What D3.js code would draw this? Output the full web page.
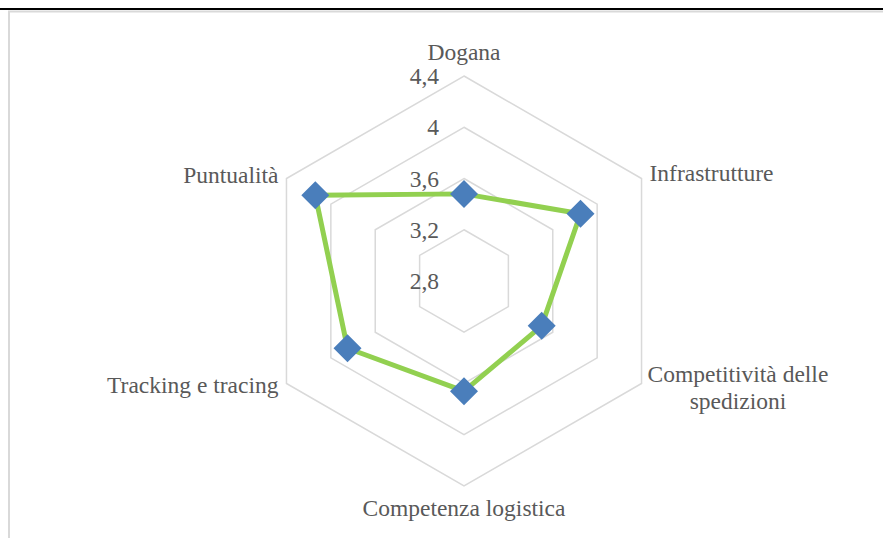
<!DOCTYPE html>
<html>
<head>
<meta charset="utf-8">
<script src="https://cdn.jsdelivr.net/npm/d3@7"></script>
<style>
  body { margin: 0; background: #fff; }
  svg { display: block; }
</style>
</head>
<body>
<svg id="chart" width="883" height="538"></svg>
<script>
// data
const labelLines = [
    ["Dogana"],
    ["Infrastrutture"],
    ["Competitività delle", "spedizioni"],
    ["Competenza logistica"],
    ["Tracking e tracing"],
    ["Puntualità"]
];
const values = [3.48, 3.85, 3.50, 3.66, 3.85, 4.14];
const ticks = [2.8, 3.2, 3.6, 4.0, 4.4];
const tickLabels = ["2,8", "3,2", "3,6", "4", "4,4"];

const width = 883, height = 538;
const cx = 464, cy = 281, R = 205;
const fontSize = 23.5;
const font = "'Liberation Serif', 'Times New Roman', Times, serif";

const svg = d3.select("#chart")
    .attr("font-family", font)
    .style("font-family", font);

// frame lines
svg.append("line")
    .attr("x1", 0).attr("x2", width).attr("y1", 9).attr("y2", 9)
    .style("stroke", "#000").style("stroke-width", 2);
svg.append("rect")
    .attr("x", 9).attr("y", 11.5).attr("width", width + 20).attr("height", height + 20)
    .style("fill", "none").style("stroke", "#d9d9d9").style("stroke-width", 2);

const r = d3.scaleLinear().domain([2.8, 4.4]).range([0, R]);
const n = labelLines.length;
const angle = i => i * 2 * Math.PI / n;

function point(i, v) {
    const a = angle(i);
    return [cx + r(v) * Math.sin(a), cy - r(v) * Math.cos(a)];
}

const g = svg.append("g");

// grid rings
const ring = d3.line();
g.selectAll("path.ring").data(ticks.slice(1)).enter().append("path")
    .attr("class", "ring")
    .attr("d", t => ring(d3.range(n).map(i => point(i, t))) + "Z")
    .style("fill", "none")
    .style("stroke", "#d9d9d9")
    .style("stroke-width", 1.5);

// tick labels
g.selectAll("text.tick").data(ticks).enter().append("text")
    .attr("class", "tick")
    .attr("x", cx - 25)
    .attr("y", t => cy - r(t) + 8)
    .attr("text-anchor", "end")
    .style("font-family", font)
    .style("fill", "#595959")
    .style("font-size", fontSize + "px")
    .text((t, i) => tickLabels[i]);

// series line
const pts = values.map((v, i) => point(i, v));
g.append("path")
    .attr("d", d3.line()(pts) + "Z")
    .style("fill", "none")
    .style("stroke", "#92d050")
    .style("stroke-width", 5)
    .style("stroke-linejoin", "round");

// diamond markers
g.selectAll("path.marker").data(pts).enter().append("path")
    .attr("class", "marker")
    .attr("transform", d => `translate(${d[0]},${d[1]})`)
    .attr("d", "M0,-14L14,0L0,14L-14,0Z")
    .style("fill", "#4a7ebb");

// category labels
const labelPos = [
    { dx: 0, dy: -16, anchor: "middle" },
    { dx: 8, dy: 2, anchor: "start" },
    { dx: 6, dy: -2, anchor: "block" },
    { dx: 0, dy: 30, anchor: "middle" },
    { dx: -8, dy: 9, anchor: "end" },
    { dx: -8, dy: 4, anchor: "end" }
];

labelLines.forEach((lines, i) => {
    const [vx, vy] = point(i, 4.4);
    const p = labelPos[i];
    const t = g.append("text")
        .style("font-family", font)
        .style("fill", "#595959")
        .style("font-size", fontSize + "px")
        .attr("y", vy + p.dy);
    lines.forEach((line, k) => {
        t.append("tspan")
            .attr("x", 0)
            .attr("dy", k === 0 ? 0 : 27)
            .text(line);
    });
    if (p.anchor === "block") {
        // centre the lines inside a block that starts at the vertex
        const w = d3.max(t.selectAll("tspan").nodes(), s => s.getComputedTextLength());
        t.attr("text-anchor", "middle");
        t.selectAll("tspan").attr("x", vx + p.dx + w / 2);
    } else {
        t.attr("text-anchor", p.anchor);
        t.selectAll("tspan").attr("x", vx + p.dx);
    }
});
</script>
</body>
</html>
